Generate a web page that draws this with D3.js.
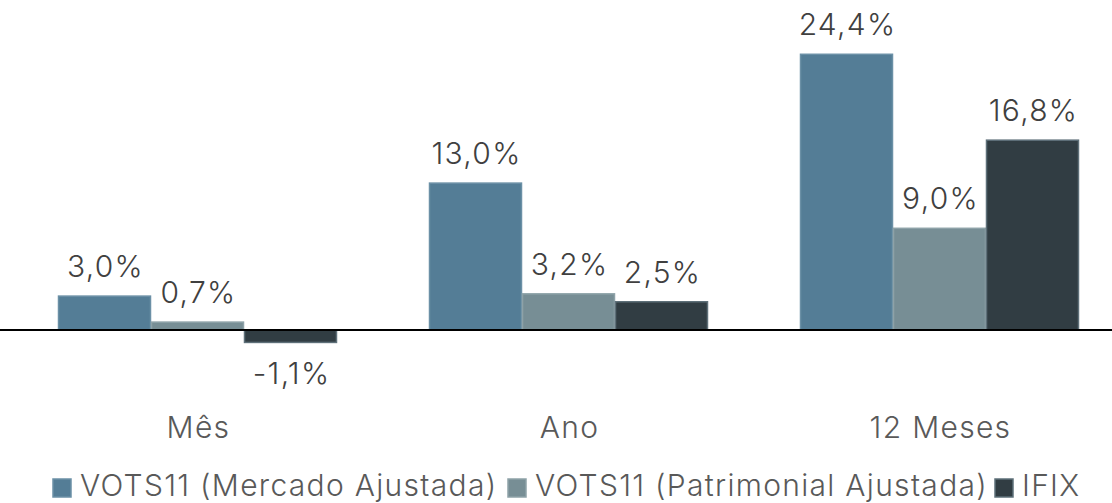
<!DOCTYPE html>
<html>
<head>
<meta charset="utf-8">
<script src="https://cdn.jsdelivr.net/npm/d3@7"></script>
<style>
  body { margin: 0; background: #fff; }
  svg text { font-family: "Inter", "Open Sans", sans-serif; font-weight: 300; letter-spacing: 1.3px; }
</style>
</head>
<body>
<div id="chart"></div>
<script>
const categories = ["Mês", "Ano", "12 Meses"];
const seriesNames = ["VOTS11 (Mercado Ajustada)", "VOTS11 (Patrimonial Ajustada)", "IFIX"];
const mercado = [3.0, 13.0, 24.4];
const patrimonial = [0.7, 3.2, 9.0];
const ifix = [-1.1, 2.5, 16.8];
const colors = ["#547d96", "#778e95", "#313d43"];
const strokes = ["#6b90a6", "#8ea2a8", "#5e7079"];

const width = 1112, height = 503;
const seriesValues = [mercado, patrimonial, ifix];

const svg = d3.select("#chart")
  .append("svg")
  .attr("width", width)
  .attr("height", height);

// category band scale
const x = d3.scaleBand()
  .domain(categories)
  .range([12, 1125])
  .paddingInner(0.248)
  .paddingOuter(0.124);

const x1 = d3.scaleBand()
  .domain(d3.range(seriesNames.length))
  .range([0, x.bandwidth()]);

const y = d3.scaleLinear()
  .domain([-5, 25])
  .range([386.5, 47.5]);

const fmt = v => d3.format(".1f")(v).replace(".", ",").replace("−", "-") + "%";

// bars
categories.forEach((c, ci) => {
  const g = svg.append("g").attr("transform", "translate(" + x(c) + ",0)");
  seriesValues.forEach((vals, si) => {
    const v = vals[ci];
    g.append("rect")
      .attr("x", x1(si) + 0.5)
      .attr("y", Math.min(y(v), y(0)))
      .attr("width", x1.bandwidth() - 1)
      .attr("height", Math.abs(y(v) - y(0)))
      .attr("fill", colors[si])
      .attr("stroke", strokes[si])
      .attr("stroke-width", 1.5);

    g.append("text")
      .attr("x", x1(si) + x1.bandwidth() / 2 + 1)
      .attr("y", v >= 0 ? y(v) - 19 : y(v) + 42)
      .attr("text-anchor", "middle")
      .attr("fill", "#404040")
      .style("font-size", "30px")
      .text(fmt(v));
  });
});

// zero line
svg.append("line")
  .attr("x1", 0)
  .attr("x2", width)
  .attr("y1", y(0))
  .attr("y2", y(0))
  .attr("stroke", "#000")
  .attr("stroke-width", 2);

// category labels
const xAxis = svg.append("g")
  .attr("transform", "translate(1,438)")
  .call(d3.axisBottom(x).tickSize(0).tickPadding(0));
xAxis.select(".domain").remove();
xAxis.selectAll("text")
  .attr("dy", 0)
  .attr("fill", "#595959")
  .style("font-size", "30px");

// legend
const legendX = [53, 508, 995];
const legend = svg.append("g");
seriesNames.forEach((name, i) => {
  legend.append("rect")
    .attr("x", legendX[i])
    .attr("y", 479)
    .attr("width", 18)
    .attr("height", 18)
    .attr("fill", colors[i])
    .attr("stroke", strokes[i])
    .attr("stroke-width", 1.5);
  legend.append("text")
    .attr("x", legendX[i] + 27)
    .attr("y", 496)
    .attr("fill", "#595959")
    .style("font-size", "30px")
    .text(name);
});
</script>
</body>
</html>
